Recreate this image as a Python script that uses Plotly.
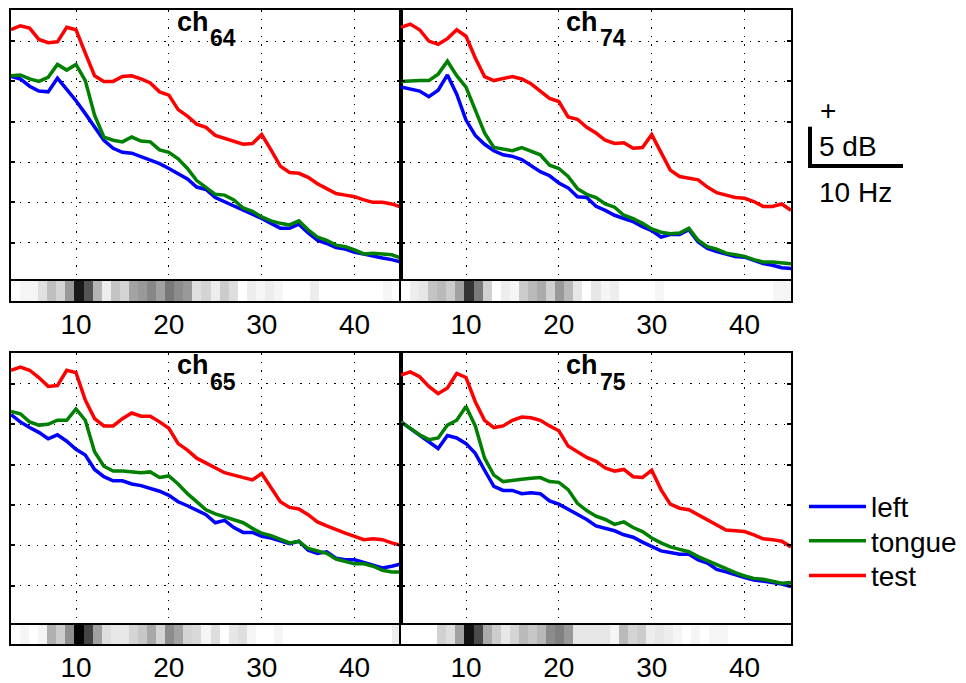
import numpy as np
import plotly.graph_objects as go

W, H = 966, 683

# ---------------- data ----------------
freqs = list(range(3, 46))                 # Hz, one value per integer frequency
strip_edges = np.linspace(3, 45, 44)       # 43 significance cells spanning 3..45 Hz
channels = ["64", "74", "65", "75"]
series_names = ["left", "tongue", "test"]
series_colors = ["#0000ff", "#008000", "#ff0000"]
tick_vals = [10, 20, 30, 40]
tick_text = ["10", "20", "30", "40"]

left_64 = [25.6, 25.3, 24.4, 23.8, 23.7, 25.4, 24.0, 22.6, 21.0, 19.4, 17.7, 16.7, 16.2, 16.1, 15.7,
           15.3, 14.8, 14.2, 13.5, 12.9, 11.9, 11.6, 10.6, 10.1, 9.5, 9.1, 8.6, 8.0, 7.4, 6.8,
           6.8, 7.3, 6.2, 5.3, 4.9, 4.4, 4.2, 3.8, 3.6, 3.3, 3.1, 2.9, 2.6]
tongue_64 = [25.7, 25.8, 25.3, 25.0, 25.5, 27.1, 26.4, 27.1, 25.1, 20.8, 18.1, 17.7, 17.5, 18.1, 17.6,
             17.5, 16.5, 16.2, 15.4, 14.2, 12.7, 11.8, 11.0, 10.9, 10.3, 9.3, 8.9, 8.2, 7.7, 7.4,
             7.2, 7.7, 6.6, 5.7, 5.3, 4.7, 4.5, 4.1, 3.6, 3.7, 3.6, 3.5, 3.1]
test_64 = [31.4, 31.9, 31.6, 30.2, 29.8, 29.9, 31.7, 31.4, 28.5, 25.7, 25.0, 25.0, 25.6, 25.7, 25.3,
           24.8, 23.7, 23.3, 21.5, 20.7, 19.7, 19.3, 18.3, 17.9, 17.6, 17.2, 17.3, 18.4, 16.5, 14.5,
           13.7, 13.6, 13.1, 12.3, 11.7, 11.1, 10.9, 10.7, 10.3, 10.0, 10.0, 9.8, 9.4]

left_74 = [24.3, 24.0, 23.8, 23.1, 23.9, 25.8, 23.4, 20.2, 18.3, 17.2, 16.4, 15.9, 15.7, 15.3, 14.5,
           13.8, 13.3, 12.4, 11.8, 10.7, 10.6, 9.5, 9.0, 8.4, 8.0, 7.6, 7.0, 6.5, 5.7, 6.0,
           6.0, 6.6, 5.1, 4.3, 3.9, 3.6, 3.3, 3.2, 2.8, 2.4, 2.2, 1.9, 1.8]
tongue_74 = [25.0, 25.1, 25.1, 25.1, 25.9, 27.5, 25.7, 24.3, 21.4, 18.6, 16.8, 16.6, 16.4, 16.8, 16.3,
             15.9, 14.6, 14.2, 13.2, 11.7, 11.0, 10.6, 9.8, 9.4, 8.4, 8.0, 7.4, 6.7, 6.3, 6.1,
             6.2, 6.8, 5.3, 4.5, 4.2, 3.7, 3.5, 3.3, 2.9, 2.6, 2.6, 2.5, 2.4]
test_74 = [31.7, 32.1, 31.4, 30.0, 29.6, 30.3, 31.4, 30.6, 27.9, 25.6, 25.1, 25.4, 25.6, 25.3, 24.7,
           23.8, 22.9, 22.5, 20.6, 20.3, 19.3, 18.6, 17.7, 17.3, 17.4, 16.7, 16.8, 18.4, 16.1, 14.0,
           13.2, 13.0, 12.8, 11.9, 11.2, 10.9, 10.6, 10.5, 10.1, 9.5, 9.5, 9.8, 9.0]

left_65 = [26.2, 25.3, 24.6, 24.0, 23.2, 23.7, 22.9, 21.9, 21.2, 19.4, 18.5, 18.0, 18.0, 17.6, 17.4,
           17.1, 16.7, 16.2, 15.4, 14.9, 14.4, 13.8, 12.8, 13.1, 12.2, 11.6, 11.6, 11.1, 10.9, 10.5,
           10.2, 10.5, 9.4, 9.0, 9.2, 8.4, 8.2, 8.2, 7.9, 7.6, 7.2, 7.4, 7.7]
tongue_65 = [26.6, 26.3, 25.3, 24.9, 25.0, 25.5, 25.5, 26.9, 25.5, 21.6, 19.8, 19.2, 19.2, 19.1, 19.0,
             19.1, 18.4, 18.6, 17.6, 16.4, 15.4, 14.4, 13.9, 13.5, 13.2, 12.8, 12.1, 11.5, 11.2, 10.7,
             10.3, 10.5, 9.6, 9.3, 9.0, 8.3, 8.0, 7.7, 7.7, 7.4, 6.9, 6.7, 6.7]
test_65 = [31.7, 32.1, 31.7, 30.8, 29.7, 29.8, 31.7, 31.4, 28.0, 25.7, 24.8, 24.8, 25.7, 26.4, 26.0,
           26.0, 25.3, 24.5, 22.6, 21.8, 20.8, 20.2, 19.5, 19.0, 18.7, 18.4, 18.1, 18.9, 17.1, 15.4,
           14.7, 14.5, 13.8, 12.9, 12.4, 11.9, 11.5, 11.1, 10.7, 10.8, 10.7, 10.3, 10.0]

left_75 = [25.3, 24.5, 23.7, 22.9, 22.0, 23.6, 23.3, 22.6, 21.4, 19.3, 17.3, 16.8, 16.8, 16.4, 16.5,
           16.4, 15.5, 15.1, 14.5, 13.9, 13.2, 12.4, 12.1, 11.8, 11.3, 11.0, 10.4, 9.9, 9.3, 9.1,
           8.9, 8.9, 8.2, 7.8, 7.0, 6.7, 6.3, 6.0, 5.7, 5.6, 5.4, 5.2, 4.9]
tongue_75 = [25.3, 24.5, 23.7, 23.1, 23.3, 24.9, 25.5, 27.2, 24.8, 20.8, 18.7, 17.9, 18.1, 18.2, 18.3,
             18.4, 17.9, 17.8, 16.9, 15.2, 14.3, 13.6, 13.2, 12.6, 12.9, 12.2, 11.7, 10.9, 10.3, 9.8,
             9.5, 9.2, 8.6, 8.1, 7.5, 7.1, 6.6, 6.2, 5.9, 5.8, 5.6, 5.3, 5.4]
test_75 = [31.1, 31.5, 30.9, 29.7, 28.8, 29.5, 31.3, 30.8, 27.8, 25.5, 24.6, 24.8, 25.5, 25.9, 25.8,
           25.5, 24.8, 24.2, 22.3, 21.6, 20.9, 20.4, 19.6, 19.2, 19.4, 18.5, 18.4, 19.3, 16.9, 15.1,
           14.6, 14.4, 13.8, 13.2, 12.6, 11.9, 11.8, 11.7, 11.3, 10.8, 10.7, 10.5, 9.8]

# discrimination strength per frequency cell (0 = white, 1 = black)
strip_64 = [0, .04, .04, .12, .25, .17, .40, .90, .67, .29, .07, .23, .17, .36, .40, .47, .37, .53, .45, .40,
            .12, .17, .07, .20, .13, 0, .07, .04, .07, .04, 0, 0, 0, .07, 0, 0, 0, 0, 0, 0, 0, .04, 0]
strip_74 = [0, .07, .10, .23, .27, .20, .37, .80, .52, .18, 0, .07, .04, .20, .27, .33, .18, .40, .27, .10,
            0, .10, .04, .07, 0, 0, 0, 0, .04, 0, 0, 0, 0, 0, 0, 0, 0, 0, 0, 0, 0, .04, .04]
strip_65 = [0, .04, 0, .04, .31, .20, .44, .98, .73, .37, .13, .09, .09, .17, .22, .34, .17, .45, .36, .17,
            .15, .04, .13, 0, .10, .13, .04, 0, 0, .04, 0, 0, 0, 0, 0, 0, 0, 0, 0, 0, 0, 0, .07]
strip_75 = [0, 0, 0, 0, .18, .13, .37, .93, .71, .33, .20, .09, .17, .27, .22, .28, .45, .50, .40, .10,
            .10, .10, .10, .04, .27, .17, .20, .07, .10, .07, .04, 0, .04, 0, .04, .04, 0, 0, 0, 0, 0, 0, 0]

panel_series = [
    (left_64, tongue_64, test_64),
    (left_74, tongue_74, test_74),
    (left_65, tongue_65, test_65),
    (left_75, tongue_75, test_75),
]
panel_strips = [strip_64, strip_74, strip_65, strip_75]

# ---------------- layout geometry (pixels) ----------------
FONT = "Liberation Sans, Arial, Helvetica, sans-serif"
col_px = [(11, 401), (401, 791)]
row_px = [  # (main top, main bottom/strip top, strip bottom)
    (10, 281, 301),
    (353.3, 625, 644),
]
y_ranges = [[0.25, 33.85], [0.12, 33.8]]
legend_ids = ["legend", "legend2", "legend3"]
legend_rows_px = [506.7, 541, 575.7]


def fx(p):
    return p / W


def fy(p):
    return 1 - p / H


fig = go.Figure()
layout = dict(
    width=W, height=H,
    margin=dict(l=0, r=0, t=0, b=0, autoexpand=False),
    paper_bgcolor="white", plot_bgcolor="white",
    font=dict(family=FONT, size=28, color="black"),
    showlegend=True,
)

for p in range(4):
    r, c = divmod(p, 2)
    x0, x1 = col_px[c]
    top, mid, bot = row_px[r]
    mi, si = 2 * p + 1, 2 * p + 2
    mx, my = f"x{mi}", f"y{mi}"
    sx, sy = f"x{si}", f"y{si}"

    layout[f"xaxis{mi}"] = dict(
        domain=[fx(x0), fx(x1)], anchor=my, range=[3, 45], automargin=False,
        tickvals=tick_vals, showticklabels=False, ticks="",
        showgrid=True, gridcolor="black", gridwidth=1, griddash="1.5px,7px",
        zeroline=False, showline=True, mirror=True, linecolor="black", linewidth=2,
    )
    layout[f"yaxis{mi}"] = dict(
        domain=[fy(mid), fy(top)], anchor=mx, range=y_ranges[r], automargin=False,
        tickvals=[5, 10, 15, 20, 25, 30], showticklabels=False,
        ticks="inside", ticklen=4, tickwidth=1.5, tickcolor="black",
        showgrid=True, gridcolor="black", gridwidth=1, griddash="1.5px,7px",
        zeroline=False, showline=True, mirror="allticks", linecolor="black", linewidth=2,
    )
    layout[f"xaxis{si}"] = dict(
        domain=[fx(x0), fx(x1)], anchor=sy, range=[3, 45], automargin=False,
        tickvals=tick_vals, ticktext=tick_text, ticks="",
        tickfont=dict(family=FONT, size=28, color="black"), ticklabelstandoff=-3,
        showgrid=False, zeroline=False, showline=True, mirror=True,
        linecolor="black", linewidth=2,
    )
    layout[f"yaxis{si}"] = dict(
        domain=[fy(bot), fy(mid)], anchor=sx, range=[0, 1], automargin=False,
        showticklabels=False, ticks="", showgrid=False, zeroline=False,
        showline=True, mirror=True, linecolor="black", linewidth=2,
    )

    fig.add_trace(go.Heatmap(
        x=strip_edges, y=[0, 1], z=[panel_strips[p]],
        zmin=0, zmax=1, colorscale=[[0, "white"], [1, "black"]],
        showscale=False, xaxis=sx, yaxis=sy, hoverinfo="skip",
    ))
    for k, (name, color, vals) in enumerate(zip(series_names, series_colors, panel_series[p])):
        fig.add_trace(go.Scatter(
            x=freqs, y=vals, mode="lines", name=name,
            line=dict(color=color, width=3.5),
            xaxis=mx, yaxis=my, showlegend=(p == 0), legendgroup=name,
            legend=legend_ids[k],
        ))

# ---------------- titles (ch + subscript) ----------------
title_pos = [  # (ch left px, sub left px, row)
    (174.7, 208, 0), (564, 598, 0), (174.7, 208, 1), (564, 598, 1),
]
annotations = []
for p, (cx, sx_, r) in enumerate(title_pos):
    top = row_px[r][0]
    annotations.append(dict(
        text="<b>ch</b>", x=fx(cx), y=fy(top + 11.6), xref="paper", yref="paper",
        xanchor="left", yanchor="middle", showarrow=False,
        font=dict(family=FONT, size=27, color="black"),
    ))
    annotations.append(dict(
        text=f"<b>{channels[p]}</b>", x=fx(sx_), y=fy(top + 28.4), xref="paper", yref="paper",
        xanchor="left", yanchor="middle", showarrow=False,
        font=dict(family=FONT, size=23, color="black"),
    ))

# ---------------- scale bar ----------------
shapes = [
    dict(type="line", xref="paper", yref="paper", x0=fx(810), x1=fx(810), y0=fy(126.7), y1=fy(168),
         line=dict(color="black", width=4)),
    dict(type="line", xref="paper", yref="paper", x0=fx(808), x1=fx(903), y0=fy(166), y1=fy(166),
         line=dict(color="black", width=4)),
]
annotations += [
    dict(text="+", x=fx(828), y=fy(111), xref="paper", yref="paper", xanchor="center", yanchor="middle",
         showarrow=False, font=dict(family=FONT, size=28, color="black")),
    dict(text="5 dB", x=fx(817), y=fy(147), xref="paper", yref="paper", xanchor="left", yanchor="middle",
         showarrow=False, font=dict(family=FONT, size=28, color="black")),
    dict(text="10 Hz", x=fx(817), y=fy(192), xref="paper", yref="paper", xanchor="left", yanchor="middle",
         showarrow=False, font=dict(family=FONT, size=28, color="black")),
]

layout["annotations"] = annotations
layout["shapes"] = shapes
for lid, row in zip(legend_ids, legend_rows_px):
    layout[lid] = dict(
        x=fx(804), y=fy(row), xanchor="left", yanchor="middle",
        bgcolor="rgba(0,0,0,0)", borderwidth=0, itemwidth=57,
        font=dict(family=FONT, size=28, color="black"), tracegroupgap=0,
    )
fig.update_layout(**layout)
fig.write_html("out.html")
